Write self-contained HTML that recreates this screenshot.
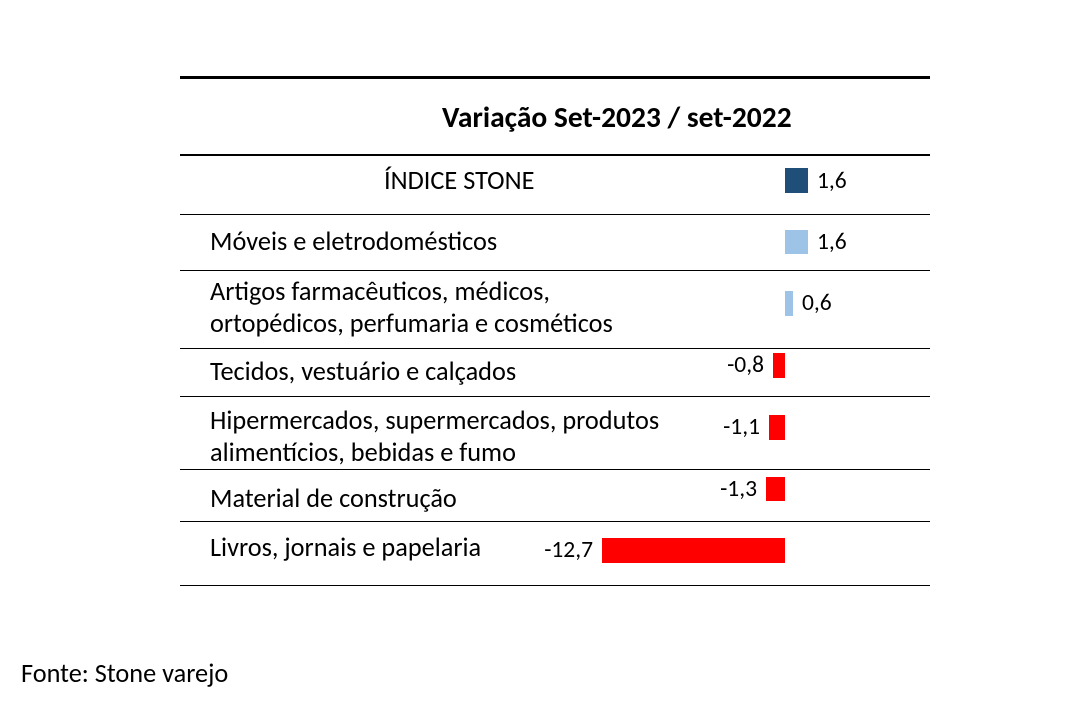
<!DOCTYPE html>
<html><head><style>
body{margin:0;width:1074px;height:714px;background:#fff;position:relative;font-family:"Carlito","Liberation Sans",sans-serif;color:#000;overflow:hidden}
.l{position:absolute;left:180px;width:750px;height:1px;background:#000}
.t{position:absolute;font-size:26.3px;white-space:nowrap;line-height:32px}
.n{position:absolute;font-size:23.5px;white-space:nowrap;line-height:32px}
.r{text-align:right;width:100px}
.b{position:absolute}
</style></head><body>
<div class="l" style="top:76px;height:3px"></div>
<div class="t" style="left:442px;top:101px;font-size:29.5px;font-weight:bold">Variação Set-2023 / set-2022</div>
<div class="l" style="top:154px;height:2px"></div>
<div class="l" style="top:214px"></div>
<div class="l" style="top:270px"></div>
<div class="l" style="top:348px"></div>
<div class="l" style="top:396px"></div>
<div class="l" style="top:469px"></div>
<div class="l" style="top:521px"></div>
<div class="l" style="top:585px"></div>

<div class="t" style="left:384px;top:165px">ÍNDICE STONE</div>
<div class="t" style="left:210px;top:226px">Móveis e eletrodomésticos</div>
<div class="t" style="left:210px;top:276px">Artigos farmacêuticos, médicos,</div>
<div class="t" style="left:210px;top:308px">ortopédicos, perfumaria e cosméticos</div>
<div class="t" style="left:210px;top:356px">Tecidos, vestuário e calçados</div>
<div class="t" style="left:210px;top:405px">Hipermercados, supermercados, produtos</div>
<div class="t" style="left:210px;top:437px">alimentícios, bebidas e fumo</div>
<div class="t" style="left:210px;top:483px">Material de construção</div>
<div class="t" style="left:210px;top:532px">Livros, jornais e papelaria</div>

<div class="b" style="left:785px;top:168px;width:23px;height:25px;background:#1f4e79"></div>
<div class="n" style="left:817px;top:165px">1,6</div>
<div class="b" style="left:785px;top:230px;width:23px;height:24px;background:#9dc3e6"></div>
<div class="n" style="left:817px;top:226px">1,6</div>
<div class="b" style="left:785px;top:291px;width:8px;height:25px;background:#9dc3e6"></div>
<div class="n" style="left:802px;top:287px">0,6</div>
<div class="b" style="left:773px;top:353px;width:12px;height:25px;background:#f00"></div>
<div class="n r" style="left:664px;top:349px">-0,8</div>
<div class="b" style="left:769px;top:415px;width:16px;height:25px;background:#f00"></div>
<div class="n r" style="left:660px;top:411px">-1,1</div>
<div class="b" style="left:766px;top:477px;width:19px;height:24px;background:#f00"></div>
<div class="n r" style="left:657px;top:473px">-1,3</div>
<div class="b" style="left:602px;top:538px;width:183px;height:25px;background:#f00"></div>
<div class="n r" style="left:493px;top:534px">-12,7</div>

<div class="t" style="left:21px;top:658px">Fonte: Stone varejo</div>
</body></html>
